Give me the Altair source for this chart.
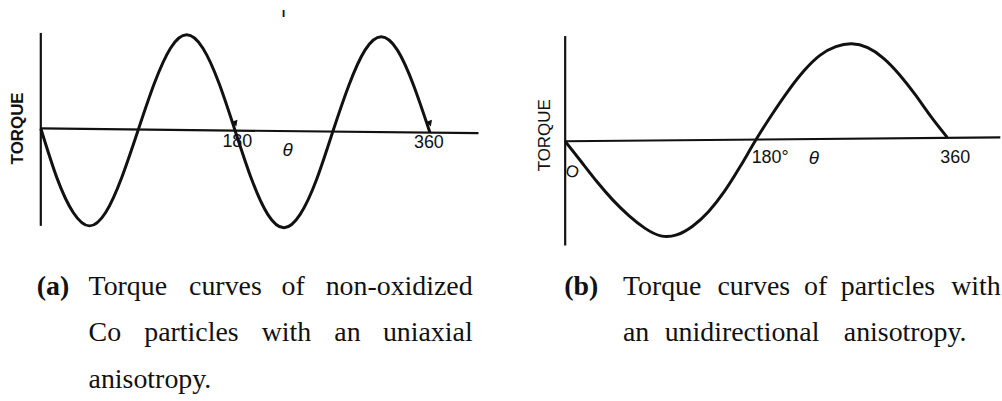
import altair as alt
import pandas as pd

# Rotation angle (degrees), sampled every 15 degrees
theta = [0, 15, 30, 45, 60, 75, 90, 105, 120, 135, 150, 165, 180,
         195, 210, 225, 240, 255, 270, 285, 300, 315, 330, 345, 360]

# (a) uniaxial anisotropy: two periods per turn (relative torque)
torque_a = [0.02, -0.50, -0.86, -1.00, -0.86, -0.49, 0.00, 0.49, 0.86, 1.00,
            0.86, 0.49, -0.01, -0.51, -0.88, -1.02, -0.88, -0.52, -0.02,
            0.47, 0.84, 0.98, 0.84, 0.47, -0.02]

# (b) unidirectional anisotropy: one period per turn (relative torque)
torque_b = [-0.01, -0.22, -0.43, -0.62, -0.78, -0.91, -0.99, -0.98, -0.89,
            -0.74, -0.53, -0.27, 0.01, 0.27, 0.51, 0.72, 0.88, 0.97, 1.00,
            0.96, 0.85, 0.68, 0.47, 0.24, 0.03]

# axis tick labels
ticks_a = ["180", "360"]
ticks_b = ["180°", "360"]

caption_a = [["Torque", "curves", "of", "non-oxidized"],
             ["Co", "particles", "with", "an", "uniaxial"],
             ["anisotropy."]]
caption_b = [["Torque", "curves", "of", "particles", "with"],
             ["an", "unidirectional", "anisotropy."]]

SANS = "Liberation Sans"
SERIF = "Liberation Serif"
INK = "#111111"
CAP_SIZE = 28


def word(text, x, y, align="left", weight="normal"):
    return alt.Chart(pd.DataFrame({"t": [text]})).mark_text(
        font=SERIF, fontSize=CAP_SIZE, fontWeight=weight, color=INK,
        align=align, baseline="middle"
    ).encode(x=alt.value(x), y=alt.value(y), text="t:N")


def panel(curve, x_dom, y_dom, width, height, axis_ends, tick_specs,
          theta_spec, ylabel_spec, extra_layers, cap_lines, cap_tag,
          cap_layout, tag_x):
    xs = alt.Scale(domain=x_dom, nice=False, zero=False)
    ys = alt.Scale(domain=y_dom, nice=False, zero=False)

    df = pd.DataFrame({"theta": theta, "torque": curve})
    line = alt.Chart(df).mark_line(
        color=INK, strokeWidth=3, interpolate="natural"
    ).encode(
        x=alt.X("theta:Q", scale=xs, axis=None),
        y=alt.Y("torque:Q", scale=ys, axis=None),
    )

    (h0, h1, hy0, hy1), (vy0, vy1) = axis_ends
    axes_df = pd.DataFrame({
        "x0": [h0, 0], "x1": [h1, 0],
        "y0": [hy0, vy0], "y1": [hy1, vy1],
    })
    axes = alt.Chart(axes_df).mark_rule(color=INK, strokeWidth=2.2).encode(
        x=alt.X("x0:Q", scale=xs, axis=None), x2="x1:Q",
        y=alt.Y("y0:Q", scale=ys, axis=None), y2="y1:Q",
    )

    layers = [axes, line]

    for label, th, dx, ypix in tick_specs:
        layers.append(
            alt.Chart(pd.DataFrame({"theta": [th], "lab": [label]})).mark_text(
                font=SANS, fontSize=18, color=INK, align="center",
                baseline="middle", dx=dx
            ).encode(
                x=alt.X("theta:Q", scale=xs, axis=None),
                y=alt.value(ypix),
                text="lab:N",
            )
        )

    tx, ty = theta_spec
    layers.append(
        alt.Chart(pd.DataFrame({"t": ["θ"]})).mark_text(
            font=SANS, fontSize=19, fontStyle="italic", color=INK,
            align="center", baseline="middle"
        ).encode(x=alt.value(tx), y=alt.value(ty), text="t:N")
    )

    lx, ly, lw = ylabel_spec
    layers.append(
        alt.Chart(pd.DataFrame({"t": ["TORQUE"]})).mark_text(
            font=SANS, fontSize=17, fontWeight=lw, color=INK, angle=270,
            align="center", baseline="middle"
        ).encode(x=alt.value(lx), y=alt.value(ly), text="t:N")
    )

    layers.extend(extra_layers)

    # caption: bold tag, then the lines word by word (hanging indent)
    layers.append(word(cap_tag, tag_x, cap_layout[0][1], weight="bold"))
    for words, (xpos, ypix) in zip(cap_lines, cap_layout):
        for w, xp in zip(words, xpos):
            if isinstance(xp, tuple):
                layers.append(word(w, xp[0], ypix, align=xp[1]))
            else:
                layers.append(word(w, xp, ypix))

    return alt.layer(*layers).properties(width=width, height=height)


H = 401

# panel (a): theta 0 -> 41 px, 360 -> 432 px; zero torque at 130 px, 96 px per unit
ka = 391 / 360
xa = [-41 / ka, (500 - 41) / ka]
ya = [-(H - 130) / 96, 130 / 96]

arrows = alt.Chart(pd.DataFrame({"theta": [180, 360], "torque": [0.07, 0.07]})).mark_point(
    shape="triangle-down", filled=True, color=INK, size=45, angle=340, opacity=1
).encode(
    x=alt.X("theta:Q", scale=alt.Scale(domain=xa, nice=False, zero=False), axis=None),
    y=alt.Y("torque:Q", scale=alt.Scale(domain=ya, nice=False, zero=False), axis=None),
)
stray = alt.Chart(pd.DataFrame({"t": ["ı"]})).mark_text(
    font=SANS, fontSize=13, fontWeight="bold", color=INK
).encode(x=alt.value(285), y=alt.value(12), text="t:N")

L1, L2, L3 = 287, 334, 381

chart_a = panel(
    torque_a, xa, ya, 500, H,
    ((0, 405, 0.02, -0.03), (-1.0, 1.02)),
    [(ticks_a[0], 180, 2, 142), (ticks_a[1], 360, -1, 143)],
    (289, 150), (18, 128, "bold"),
    [arrows, stray],
    caption_a, "(a)",
    [([89, 190, 283, (475, "right")], L1),
     ([89, 145, 263, 336, (475, "right")], L2),
     ([89], L3)],
    37,
)

# panel (b): theta 0 -> 68 px, 360 -> 452 px; zero torque at 140 px, 97 px per unit
kb = 384 / 360
xb = [-68 / kb, (502 - 68) / kb]
yb = [-(H - 140) / 97, 140 / 97]

zero_lab = alt.Chart(pd.DataFrame({"t": ["O"]})).mark_text(
    font=SANS, fontSize=17, color=INK, angle=20
).encode(x=alt.value(75), y=alt.value(172), text="t:N")

chart_b = panel(
    torque_b, xb, yb, 502, H,
    ((0, 410, -0.01, 0.03), (-1.09, 1.08)),
    [(ticks_b[0], 180, 14, 158), (ticks_b[1], 360, 8, 158)],
    (318, 158), (48, 135, "normal"),
    [zero_lab],
    caption_b, "(b)",
    [([126, 221, 308, 345, 456], L1), ([126, 168, 348], L2)],
    67,
)

chart = alt.hconcat(chart_a, chart_b, spacing=0).properties(
    padding=0,
    background="white",
).configure_view(stroke=None)

chart.save("out.html", embed_options={"renderer": "svg", "actions": False})
